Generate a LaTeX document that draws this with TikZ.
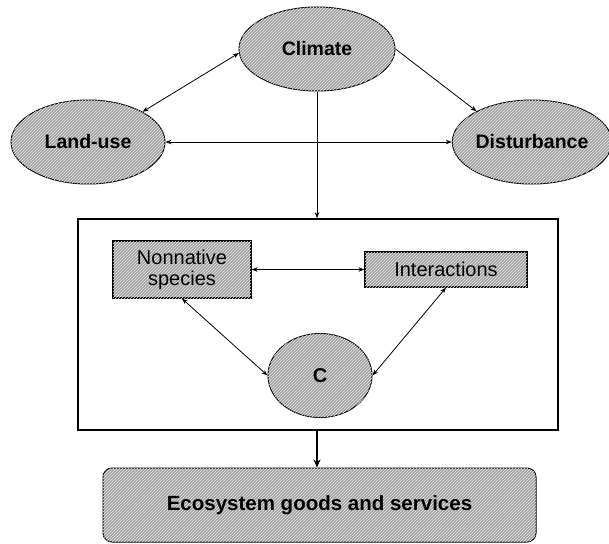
\documentclass[tikz,border=0pt]{standalone}
\usepackage{fontspec}
\setmainfont{Liberation Sans}
\usetikzlibrary{shapes.geometric,arrows.meta,patterns}
\tikzset{
  hatch/.style={fill=gray!75, postaction={pattern=north east lines, pattern color=white!85!gray}},
  oval/.style={ellipse, draw=black, line width=1pt, hatch, inner sep=0pt, font=\bfseries\fontsize{19.5}{22}\selectfont},
  sqbox/.style={rectangle, draw=black, line width=1.2pt, hatch, inner sep=0pt, font=\fontsize{20}{21}\selectfont, align=center},
  conn/.style={line width=0.8pt, {Stealth[length=6pt,width=4.5pt]}-{Stealth[length=6pt,width=4.5pt]}},
  oneway/.style={line width=0.8pt, -{Stealth[length=6pt,width=4.5pt]}},
}
\begin{document}
\begin{tikzpicture}[x=1pt,y=-1pt]
\useasboundingbox (0,0) rectangle (609,543);
\node[oval, minimum width=156pt, minimum height=84pt] (climate) at (317,49) {Climate};
\node[oval, minimum width=154pt, minimum height=84pt] (landuse) at (88,142) {Land-use};
\node[oval, minimum width=152pt, minimum height=84pt] (disturb) at (532,142) {Disturbance};
\node[rectangle, draw=black, line width=1.6pt, minimum width=480pt, minimum height=211pt] (panel) at (318,324.5) {};
\node[sqbox, minimum width=138pt, minimum height=57pt] (nonnative) at (182,269.5) {Nonnative\\species};
\node[sqbox, minimum width=162pt, minimum height=35pt] (inter) at (446,269.5) {Interactions};
\node[oval, minimum width=104pt, minimum height=84pt, font=\bfseries\fontsize{20}{22}\selectfont] (c) at (320,375.5) {C};
\node[rectangle, rounded corners=9pt, draw=black, line width=1pt, hatch, minimum width=433pt, minimum height=74pt, font=\bfseries\fontsize{20.5}{22}\selectfont] (eco) at (319.5,505) {Ecosystem goods and services};

\draw[conn] (landuse.29) -- (climate.183);
\draw[oneway] (climate.east) -- (disturb.151);
\draw[conn] (landuse.east) -- (disturb.west);
\draw[oneway] (climate.south) -- (climate.south |- panel.north);
\draw[conn] (nonnative.east) -- (inter.west);
\draw[conn] (nonnative.south) -- (c.west);
\draw[conn] (inter.south) -- (c.east);
\draw[line width=2.4pt, -{Stealth[length=8pt,width=7pt]}] (climate.south |- panel.south) -- (climate.south |- eco.north);
\end{tikzpicture}
\end{document}
